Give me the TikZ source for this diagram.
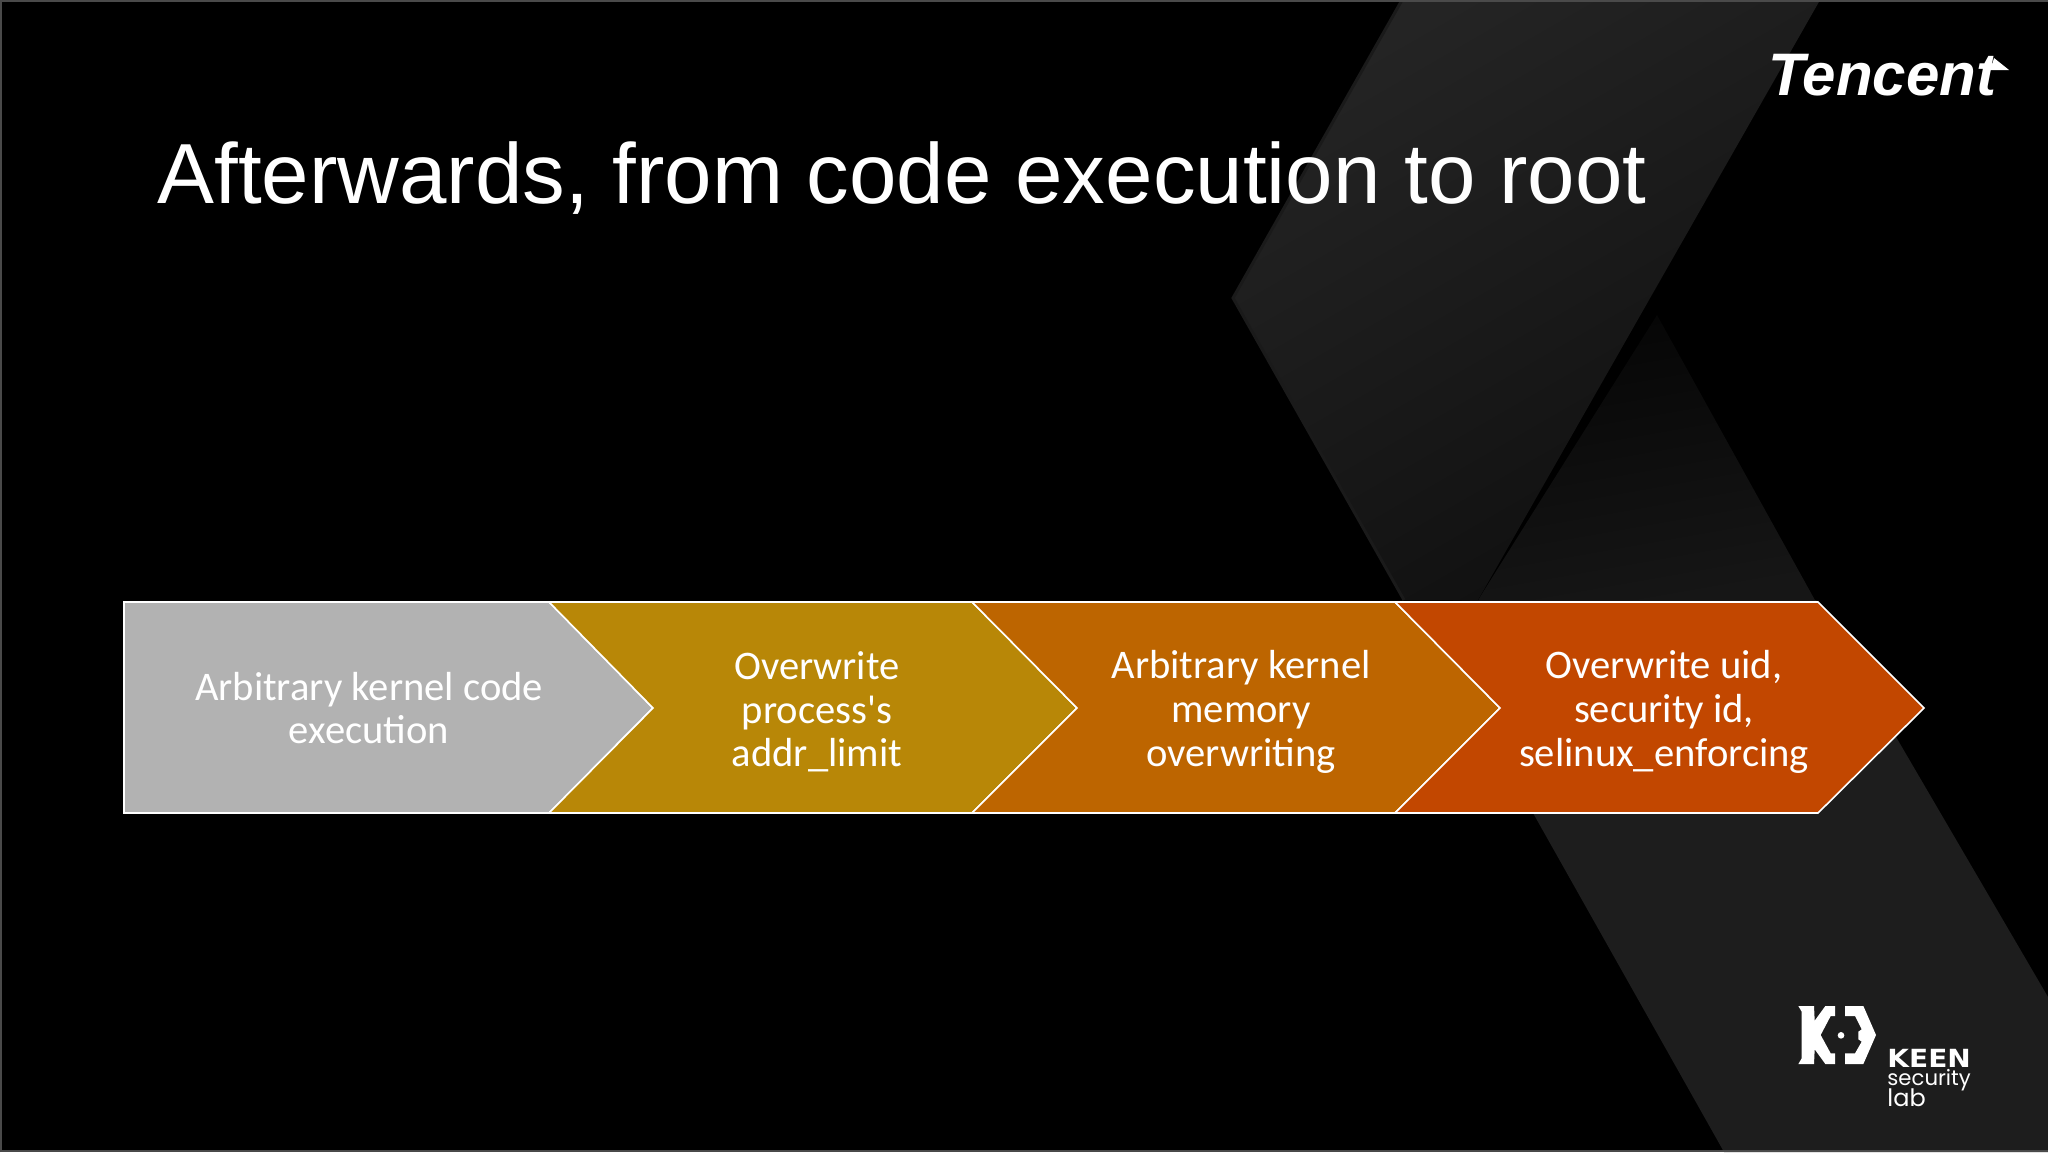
\documentclass[tikz,border=0pt]{standalone}
\usepackage{fontspec}
\setmainfont{Liberation Sans}
\newfontfamily\bodyfont{Carlito}
\newfontfamily\logofont{Poppins}
\newfontfamily\keenfont[FakeStretch=1.12]{DejaVu Sans}
\usetikzlibrary{positioning}
\definecolor{slidegray}{HTML}{B2B2B2}
\definecolor{slidegold}{HTML}{B88707}
\definecolor{slideamber}{HTML}{BD6500}
\definecolor{slidered}{HTML}{C24700}
\definecolor{bandlight}{HTML}{242424}
\definecolor{banddark}{HTML}{0F0F0F}
\definecolor{bandrim}{HTML}{1A1A1A}
\definecolor{bandnight}{HTML}{050505}
\definecolor{bandmid}{HTML}{161616}
\definecolor{bandlow}{HTML}{1D1D1D}
\definecolor{slideedge}{HTML}{4A4A4A}

\begin{document}
\begin{tikzpicture}[
  x=0.5pt, y=-0.5pt,
  chev/.style={draw=white, line width=0.8pt, line join=miter},
  lbl/.style={text=white, align=center, inner sep=0pt, font=\bodyfont\fontsize{20.3}{21.85}\selectfont},
  logomark/.style={fill=white, draw=none}]
\useasboundingbox (0,0) rectangle (2048,1152);
\fill[black] (0,0) rectangle (2048,1152);
% dark bands behind the slide
\fill[left color=bandnight, right color=bandmid, shading angle=10]
  (1657,315) -- (1816,602) -- (1410,602) -- (1478,600) -- cycle;
\fill[bandlow] (1533,813) -- (1500,700) -- (1816,600) -- (2048,997) -- (2048,1152) -- (1724,1152) -- cycle;
\fill[bottom color=banddark, top color=bandlight, shading angle=30]
  (1402,0) -- (1820,0) -- (1478,600) -- (1404,600) -- (1233,298) -- cycle;
\draw[bandrim, line width=1.5pt] (1402,0) -- (1233,298) -- (1404,600);
\draw[slideedge, line width=1pt] (1,1152) -- (1,1) -- (2048,1);
\draw[slideedge, line width=1pt] (0,1151) -- (2048,1151);

\node[text=white, anchor=base west, inner sep=0pt, font=\fontsize{42.66}{48}\selectfont] (title) at (157,203) {Afterwards, from code execution to root};

\draw[chev, fill=slidegray] (124,602) -- (549,602) -- (653,708) -- (549,813) -- (124,813) -- cycle;
\draw[chev, fill=slidegold] (549,602) -- (972,602) -- (1077,708) -- (972,813) -- (549,813) -- (653,708) -- cycle;
\draw[chev, fill=slideamber] (972,602) -- (1395,602) -- (1500,708) -- (1395,813) -- (972,813) -- (1077,708) -- cycle;
\draw[chev, fill=slidered] (1395,602) -- (1818,602) -- (1924,708) -- (1818,813) -- (1395,813) -- (1500,708) -- cycle;
\node[lbl] (exec) at (369,708) {Arbitrary kernel code\\execution};
\node[lbl] (limit) at (817,712) {Overwrite\\process's\\addr\_limit};
\node[lbl] (write) at (1241,712) {Arbitrary kernel\\memory\\overwriting};
\node[lbl] (uid) at (1664,712) {Overwrite uid,\\security id,\\selinux\_enforcing};

% logos
\node[text=white, anchor=base west, inner sep=0pt, font=\bfseries\itshape\fontsize{30}{30}\selectfont] (tencent) at (1768,95) {Tencent};
\fill[logomark] (1994,58) -- (2009,70) -- (1985,70) -- (1985,65) -- (1992,65) -- cycle;
\begin{scope}[shift={(1790,1000)}, scale=1/3]
\fill[logomark] (25,18) -- (72,18) -- (74,62) -- (106,18) -- (135,18) -- (135,48) -- (122,48) -- (92,105) -- (122,160) -- (135,160) -- (135,192) -- (106,192) -- (74,148) -- (72,192) -- (25,192) -- (35,175) -- (35,35) -- cycle;
\fill[logomark] (165,18) -- (220,18) -- (258,105) -- (220,192) -- (165,192) -- (165,160) -- (195,160) -- (215,125) -- (205,118) -- (205,95) -- (215,88) -- (195,48) -- (165,48) -- cycle;
\fill[logomark] (153,106) circle (10);
\end{scope}
\node[text=white, anchor=base west, inner sep=0pt, font=\keenfont\bfseries\fontsize{12.5}{12.5}\selectfont] (keen) at (1887,1067) {KEEN};
\node[text=white, anchor=base west, inner sep=0pt, font=\logofont\fontsize{10.6}{11}\selectfont] (security) at (1887,1085) {security};
\node[text=white, anchor=base west, inner sep=0pt, font=\logofont\fontsize{12}{13}\selectfont] (lab) at (1887,1106) {lab};
\end{tikzpicture}
\end{document}
